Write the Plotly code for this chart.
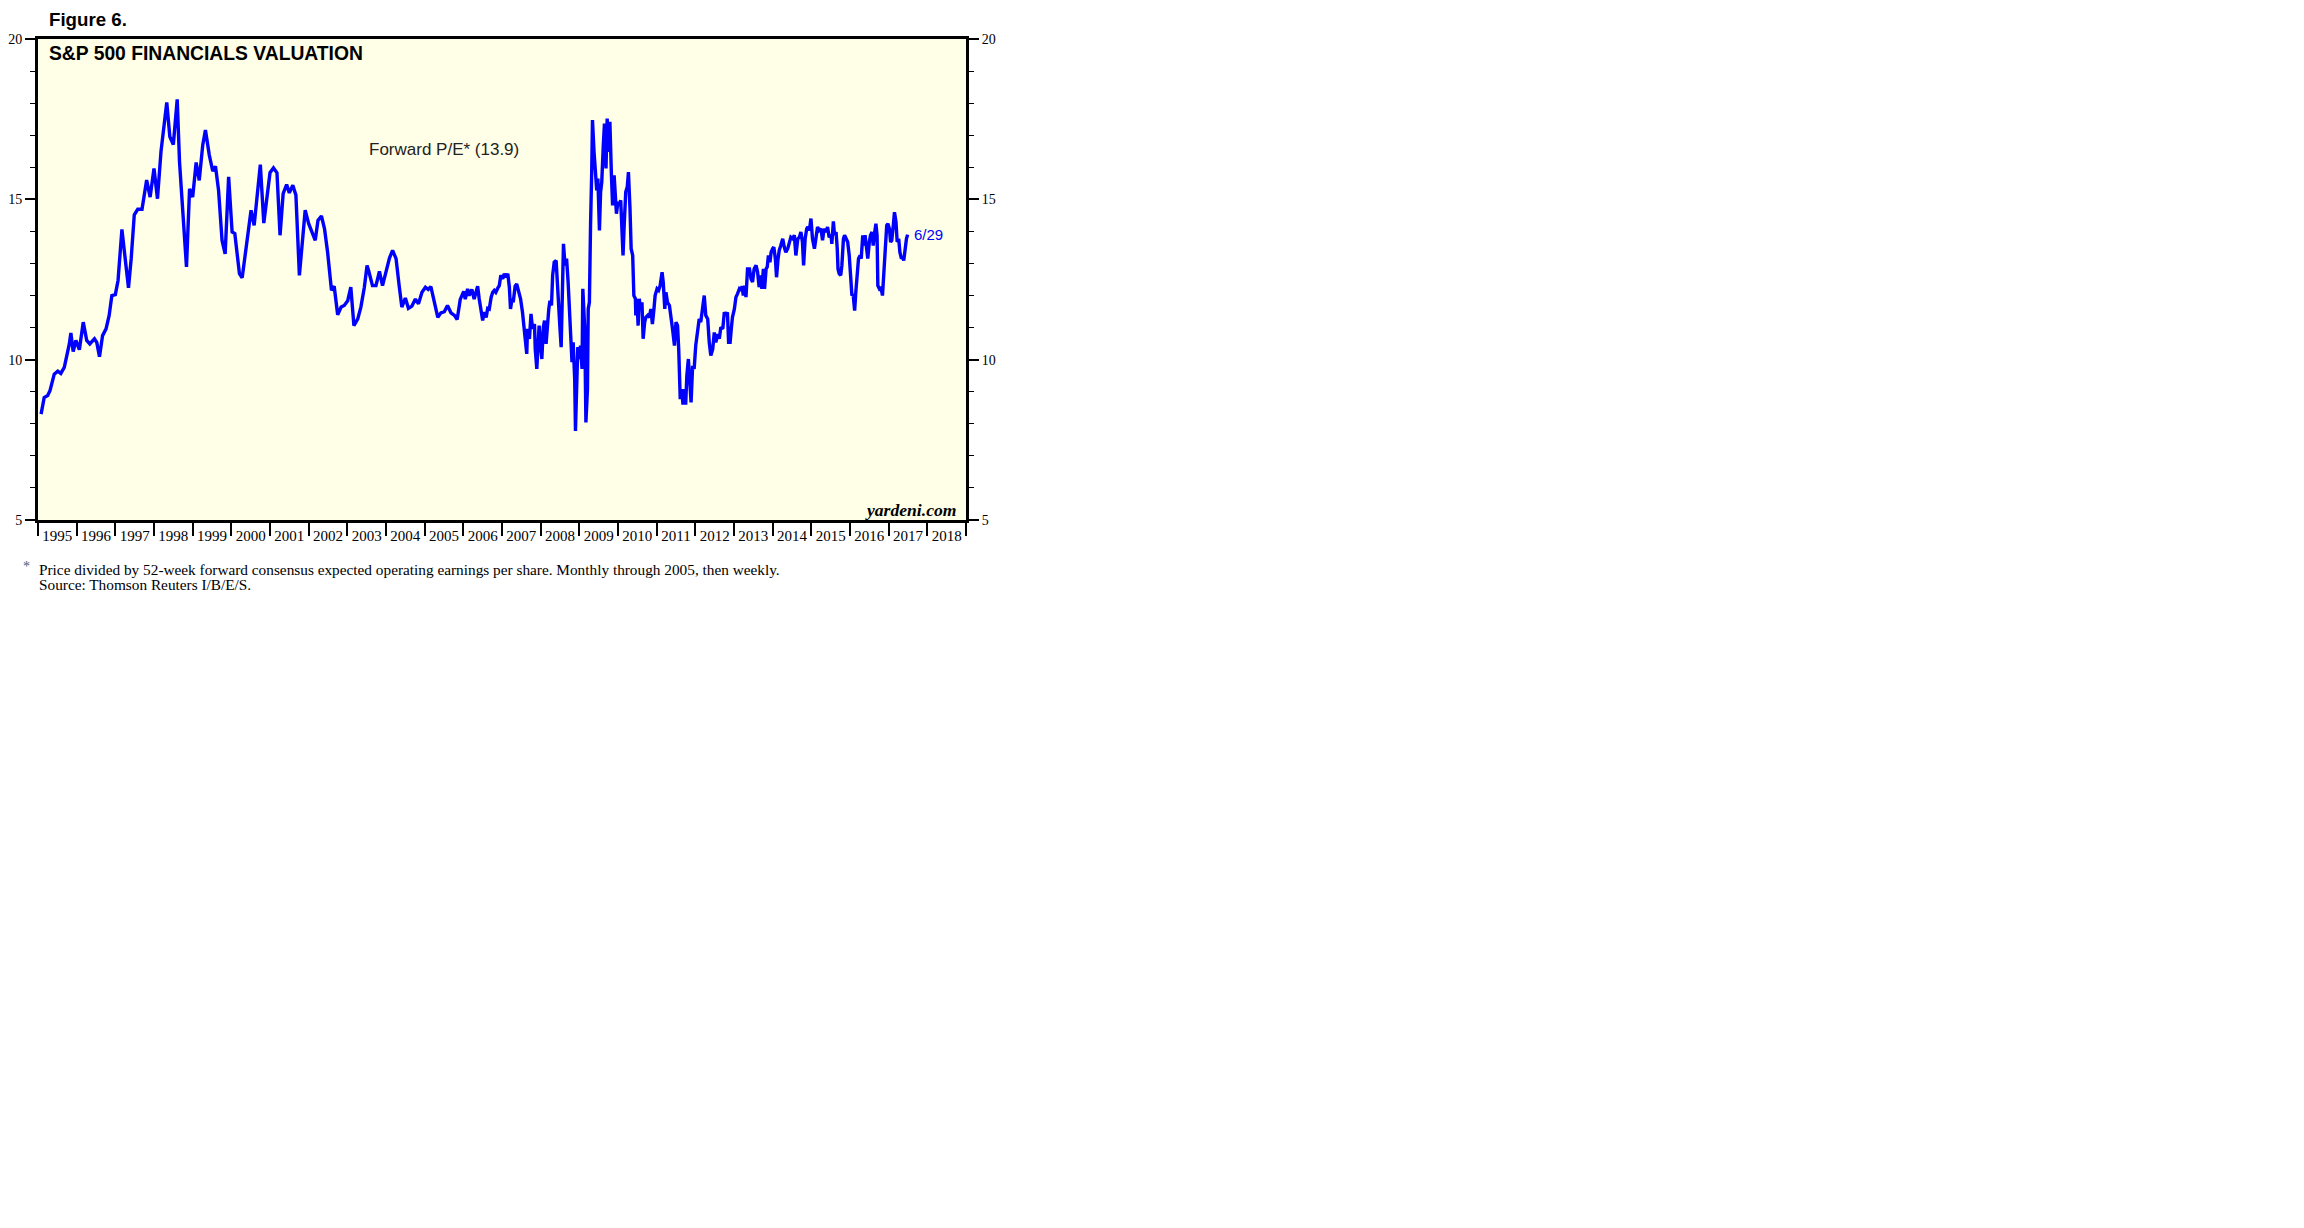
import plotly.graph_objects as go

# ---------------- data (decimal years, forward P/E) ----------------
t_monthly = [
    1995.08, 1995.16, 1995.25, 1995.31, 1995.42, 1995.51, 1995.59, 1995.68, 1995.81, 1995.85,
    1995.91, 1995.98, 1996.07, 1996.17, 1996.26, 1996.34, 1996.46, 1996.52, 1996.59, 1996.67,
    1996.76, 1996.84, 1996.91, 1997.00, 1997.07, 1997.17, 1997.34, 1997.41, 1997.49, 1997.58,
    1997.69, 1997.75, 1997.81, 1997.90, 1998.00, 1998.09, 1998.18, 1998.33, 1998.41, 1998.50,
    1998.60, 1998.66, 1998.74, 1998.84, 1998.92, 1999.00, 1999.09, 1999.17, 1999.26, 1999.33,
    1999.43, 1999.52, 1999.59, 1999.67, 1999.76, 1999.84, 1999.93, 2000.02, 2000.09, 2000.21,
    2000.28, 2000.36, 2000.42, 2000.51, 2000.59, 2000.75, 2000.84, 2000.92, 2001.00, 2001.09,
    2001.18, 2001.26, 2001.34, 2001.43, 2001.50, 2001.59, 2001.67, 2001.76, 2001.83, 2001.91,
    2002.00, 2002.09, 2002.17, 2002.24, 2002.33, 2002.41, 2002.49, 2002.59, 2002.66, 2002.75,
    2002.84, 2002.92, 2003.01, 2003.09, 2003.17, 2003.27, 2003.35, 2003.44, 2003.51, 2003.55,
    2003.65, 2003.74, 2003.83, 2003.91, 2004.00, 2004.09, 2004.17, 2004.26, 2004.34, 2004.41,
    2004.50, 2004.58, 2004.67, 2004.76, 2004.84, 2004.93, 2005.02, 2005.09, 2005.16, 2005.25,
    2005.34, 2005.42, 2005.51, 2005.59, 2005.68, 2005.77, 2005.84, 2005.92, 2006.01,
]
pe_monthly = [
    8.30, 8.82, 8.88, 9.03, 9.55, 9.64, 9.57, 9.76, 10.49, 10.83,
    10.25, 10.60, 10.31, 11.17, 10.60, 10.49, 10.65, 10.54, 10.09, 10.75,
    10.96, 11.38, 12.00, 12.03, 12.47, 14.06, 12.24, 13.15, 14.52, 14.69,
    14.69, 15.23, 15.60, 15.07, 15.96, 15.02, 16.48, 18.02, 16.95, 16.71,
    18.12, 16.17, 14.81, 12.89, 15.33, 15.07, 16.15, 15.59, 16.69, 17.16,
    16.38, 15.88, 16.03, 15.28, 13.72, 13.30, 15.70, 13.98, 13.93, 12.68,
    12.55, 13.35, 13.77, 14.66, 14.19, 16.08, 14.26, 15.02, 15.83, 15.98,
    15.83, 13.88, 15.18, 15.46, 15.20, 15.44, 15.13, 12.63, 13.72, 14.66,
    14.24, 13.98, 13.72, 14.34, 14.48, 14.08, 13.35, 12.16, 12.29, 11.40,
    11.64, 11.69, 11.84, 12.26, 11.06, 11.27, 11.64, 12.26, 12.94, 12.78,
    12.31, 12.31, 12.75, 12.31, 12.73, 13.17, 13.41, 13.15, 12.31, 11.64,
    11.92, 11.60, 11.67, 11.89, 11.74, 12.10, 12.26, 12.19, 12.28, 11.79,
    11.32, 11.46, 11.50, 11.69, 11.46, 11.38, 11.25, 11.88, 12.13,
]

t_weekly = [
    2006.05, 2006.11, 2006.15, 2006.22, 2006.28, 2006.33, 2006.37, 2006.41, 2006.46, 2006.50,
    2006.54, 2006.59, 2006.63, 2006.67, 2006.72, 2006.76, 2006.80, 2006.84, 2006.89, 2006.93,
    2006.97, 2007.02, 2007.06, 2007.10, 2007.15, 2007.19, 2007.22, 2007.26, 2007.29, 2007.34,
    2007.38, 2007.43, 2007.48, 2007.53, 2007.58, 2007.60, 2007.64, 2007.66, 2007.71, 2007.75,
    2007.79, 2007.84, 2007.86, 2007.90, 2007.93, 2007.96, 2008.00, 2008.03, 2008.07, 2008.10,
    2008.14, 2008.17, 2008.21, 2008.24, 2008.28, 2008.31, 2008.35, 2008.40, 2008.43, 2008.46,
    2008.50, 2008.53, 2008.56, 2008.59, 2008.63, 2008.67, 2008.71, 2008.74, 2008.78, 2008.81,
    2008.84, 2008.88, 2008.90, 2008.93, 2008.96, 2009.00, 2009.03, 2009.07, 2009.09, 2009.14,
    2009.17, 2009.21, 2009.23, 2009.26, 2009.27, 2009.29, 2009.32, 2009.34, 2009.38, 2009.41,
    2009.45, 2009.48, 2009.52, 2009.55, 2009.58, 2009.62, 2009.65, 2009.69, 2009.72, 2009.76,
    2009.79, 2009.83, 2009.86, 2009.90, 2009.93, 2009.96, 2010.00, 2010.03, 2010.07, 2010.10,
    2010.13, 2010.16, 2010.20, 2010.24, 2010.27, 2010.31, 2010.34, 2010.38, 2010.41, 2010.45,
    2010.46, 2010.49, 2010.52, 2010.55, 2010.58, 2010.62, 2010.65, 2010.69, 2010.72, 2010.77,
    2010.81, 2010.85, 2010.89, 2010.93, 2010.96, 2011.01, 2011.05, 2011.09, 2011.14, 2011.17,
    2011.21, 2011.24, 2011.28, 2011.33, 2011.37, 2011.41, 2011.46, 2011.50, 2011.54, 2011.57,
    2011.61, 2011.65, 2011.68, 2011.71, 2011.75, 2011.78, 2011.82, 2011.85, 2011.89, 2011.93,
    2011.97, 2012.01, 2012.06, 2012.10, 2012.14, 2012.19, 2012.23, 2012.27, 2012.32, 2012.36,
    2012.40, 2012.45, 2012.49, 2012.53, 2012.58, 2012.62, 2012.66, 2012.71, 2012.75, 2012.79,
    2012.83, 2012.86, 2012.90, 2012.93, 2012.96, 2013.01, 2013.05, 2013.09, 2013.14, 2013.18,
    2013.21, 2013.24, 2013.27, 2013.31, 2013.35, 2013.40, 2013.44, 2013.48, 2013.52, 2013.57,
    2013.61, 2013.65, 2013.69, 2013.72, 2013.76, 2013.79, 2013.83, 2013.86, 2013.89, 2013.93,
    2013.96, 2014.00, 2014.03, 2014.07, 2014.10, 2014.14, 2014.17, 2014.21, 2014.26, 2014.30,
    2014.34, 2014.39, 2014.43, 2014.47, 2014.52, 2014.56, 2014.60, 2014.65, 2014.69, 2014.73,
    2014.77, 2014.80, 2014.84, 2014.88, 2014.91, 2014.95, 2014.99, 2015.03, 2015.08, 2015.12,
    2015.16, 2015.20, 2015.25, 2015.29, 2015.33, 2015.38, 2015.42, 2015.46, 2015.51, 2015.53,
    2015.57, 2015.60, 2015.64, 2015.67, 2015.69, 2015.72, 2015.76, 2015.79, 2015.83, 2015.86,
    2015.89, 2015.94, 2015.98, 2016.02, 2016.05, 2016.08, 2016.12, 2016.15, 2016.19, 2016.22,
    2016.26, 2016.29, 2016.33, 2016.36, 2016.39, 2016.43, 2016.46, 2016.50, 2016.53, 2016.57,
    2016.60, 2016.64, 2016.67, 2016.70, 2016.72, 2016.76, 2016.80, 2016.84, 2016.88, 2016.91,
    2016.95, 2016.98, 2017.02, 2017.05, 2017.08, 2017.12, 2017.15, 2017.19, 2017.22, 2017.26,
    2017.29, 2017.33, 2017.36, 2017.39, 2017.43, 2017.46, 2017.49,
]
pe_weekly = [
    11.89, 12.21, 12.00, 12.19, 11.89, 12.10, 12.29, 11.90, 11.58, 11.22,
    11.48, 11.32, 11.60, 11.58, 11.95, 12.10, 12.16, 12.10, 12.23, 12.31,
    12.63, 12.52, 12.68, 12.57, 12.68, 12.26, 11.58, 11.90, 11.79, 12.29,
    12.36, 12.16, 11.90, 11.48, 10.96, 10.59, 10.18, 10.96, 10.65, 11.43,
    10.96, 11.11, 10.33, 9.71, 10.65, 11.06, 10.44, 10.02, 11.01, 11.22,
    10.49, 11.06, 11.58, 11.84, 11.69, 12.63, 13.04, 13.09, 12.42, 11.38,
    10.96, 10.39, 12.00, 13.61, 12.94, 13.15, 12.42, 11.58, 10.54, 9.92,
    10.54, 9.40, 7.78, 9.29, 10.39, 10.02, 10.44, 9.71, 12.21, 10.96,
    8.04, 9.08, 11.58, 11.79, 13.25, 14.19, 15.85, 17.47, 16.48, 16.06,
    15.28, 15.65, 14.03, 15.23, 15.54, 16.69, 17.36, 15.96, 17.52, 16.48,
    17.42, 15.75, 14.81, 15.75, 14.92, 14.55, 14.92, 14.81, 14.97, 13.88,
    13.25, 14.19, 15.23, 15.39, 15.85, 14.71, 13.46, 13.25, 12.00, 11.90,
    11.38, 11.90, 11.06, 11.90, 11.58, 11.79, 10.65, 11.17, 11.32, 11.38,
    11.32, 11.58, 11.11, 11.58, 12.00, 12.21, 12.16, 12.31, 12.73, 12.42,
    11.58, 12.10, 11.79, 11.69, 11.38, 10.96, 10.44, 11.17, 11.06, 10.33,
    8.77, 9.08, 8.60, 9.08, 8.60, 9.50, 10.02, 9.50, 8.67, 9.81,
    9.71, 10.44, 10.96, 11.27, 11.17, 11.58, 12.00, 11.38, 11.27, 10.54,
    10.13, 10.33, 10.85, 10.54, 10.80, 10.65, 11.01, 10.96, 11.48, 11.38,
    11.48, 10.54, 10.54, 10.96, 11.32, 11.58, 11.95, 12.05, 12.21, 12.16,
    12.29, 12.00, 12.31, 11.95, 12.83, 12.83, 12.52, 12.42, 12.83, 12.94,
    12.73, 12.26, 12.63, 12.21, 12.83, 12.21, 12.83, 12.89, 13.25, 13.04,
    13.35, 13.46, 13.51, 13.15, 12.57, 13.15, 13.41, 13.56, 13.77, 13.51,
    13.35, 13.46, 13.67, 13.82, 13.77, 13.88, 13.25, 13.77, 13.82, 13.98,
    13.67, 12.94, 13.77, 14.08, 14.14, 14.03, 14.40, 13.77, 13.46, 13.82,
    14.14, 14.03, 14.08, 13.72, 14.08, 13.98, 14.14, 13.82, 13.88, 13.61,
    14.31, 13.88, 13.98, 13.46, 12.83, 12.68, 12.63, 12.94, 13.77, 13.88,
    13.77, 13.67, 13.25, 12.52, 12.00, 12.05, 11.53, 12.10, 12.83, 13.15,
    13.25, 13.15, 13.88, 13.56, 13.88, 13.46, 13.15, 13.67, 13.88, 13.98,
    13.56, 13.98, 14.24, 13.88, 12.31, 12.21, 12.26, 12.00, 12.78, 13.67,
    14.19, 14.24, 14.08, 13.67, 13.72, 14.19, 14.60, 14.29, 13.67, 13.77,
    13.35, 13.15, 13.20, 13.09, 13.56, 13.77, 13.90,
]

years = list(range(1995, 2019))
y_ticks = [5, 10, 15, 20]
last_label = "6/29"

t_all = t_monthly + t_weekly
pe_all = pe_monthly + pe_weekly

# ---------------- layout geometry (pixels, page coordinates) ----------------
W, H = 2304, 1228
OFF = 8  # default page body margin added by the browser
L, R, T, B = 38, 966, 39, 520
PW, PH = R - L, B - T


def px(x):
    return (x - L) / PW


def py(y):
    return (B - y) / PH


SERIF = "Liberation Serif, Times New Roman, serif"
SANS = "Liberation Sans, Arial, sans-serif"

fig = go.Figure()
fig.add_trace(go.Scatter(
    x=t_all, y=pe_all, mode="lines",
    line=dict(color="#0000FF", width=3.4),
    showlegend=False, hoverinfo="skip",
))

yaxis_common = dict(
    range=[5, 20], showgrid=False, zeroline=False, automargin=False,
    tickmode="array", tickvals=y_ticks,
    ticks="outside", ticklen=10, tickwidth=1.5, tickcolor="black",
    tickfont=dict(family=SERIF, size=14, color="black"),
    showline=True, linecolor="black", linewidth=3,
    minor=dict(tickmode="linear", tick0=5, dtick=1, ticks="outside",
               ticklen=5, tickwidth=1.2, tickcolor="black", showgrid=False),
)

fig.update_layout(
    width=W, height=H, autosize=False,
    margin=dict(l=L - OFF, r=W - R + OFF, t=T - OFF, b=H - B + OFF, pad=0, autoexpand=False),
    paper_bgcolor="white", plot_bgcolor="#FFFEE6",
    font=dict(family=SERIF, color="black", size=15),
    showlegend=False,
    xaxis=dict(
        range=[1995, 2019], showgrid=False, zeroline=False, automargin=False,
        tickmode="array", tickvals=[y + 0.5 for y in years],
        ticktext=[str(y) for y in years],
        ticks="", ticklen=0,
        tickfont=dict(family=SERIF, size=15, color="black"),
        showline=True, linecolor="black", linewidth=3, mirror=True,
        minor=dict(tickmode="linear", tick0=1995, dtick=1, ticks="outside",
                   ticklen=13, tickwidth=2, tickcolor="black", showgrid=False),
    ),
    yaxis=dict(**yaxis_common),
    yaxis2=dict(**yaxis_common, overlaying="y", side="right", anchor="x"),
)

# invisible anchor trace for the right axis
fig.add_trace(go.Scatter(x=[t_all[-1]], y=[pe_all[-1]], yaxis="y2", mode="markers",
                         marker=dict(opacity=0), showlegend=False, hoverinfo="skip"))

ann = [
    dict(text="<b>Figure 6.</b>", x=px(47), y=py(20), xanchor="left", yanchor="middle",
         font=dict(family=SANS, size=18.7, color="black")),
    dict(text="<b>S&P 500 FINANCIALS VALUATION</b>", x=px(47), y=py(53),
         xanchor="left", yanchor="middle", font=dict(family=SANS, size=19.3, color="black")),
    dict(text="Forward P/E* (13.9)", x=px(367), y=py(149), xanchor="left", yanchor="middle",
         font=dict(family=SANS, size=17, color="#222222")),
    dict(text="<b><i>yardeni.com</i></b>", x=px(958), y=py(510), xanchor="right",
         yanchor="middle", font=dict(family=SERIF, size=17.6, color="black")),
    dict(text="*", x=px(21), y=py(566), xanchor="left", yanchor="middle",
         font=dict(family=SERIF, size=14, color="#4a5a7a")),
    dict(text="Price divided by 52-week forward consensus expected operating earnings per share. "
              "Monthly through 2005, then weekly.",
         x=px(37), y=py(569), xanchor="left", yanchor="middle",
         font=dict(family=SERIF, size=15.3, color="black")),
    dict(text="Source: Thomson Reuters I/B/E/S.", x=px(37), y=py(584), xanchor="left",
         yanchor="middle", font=dict(family=SERIF, size=15.3, color="black")),
]
for a in ann:
    fig.add_annotation(xref="paper", yref="paper", showarrow=False, **a)

fig.add_annotation(text=last_label, x=t_all[-1], y=pe_all[-1], xref="x", yref="y",
                   xanchor="left", yanchor="middle", xshift=4, showarrow=False,
                   font=dict(family=SANS, size=15, color="#0000FF"))

fig.write_html("out.html")
